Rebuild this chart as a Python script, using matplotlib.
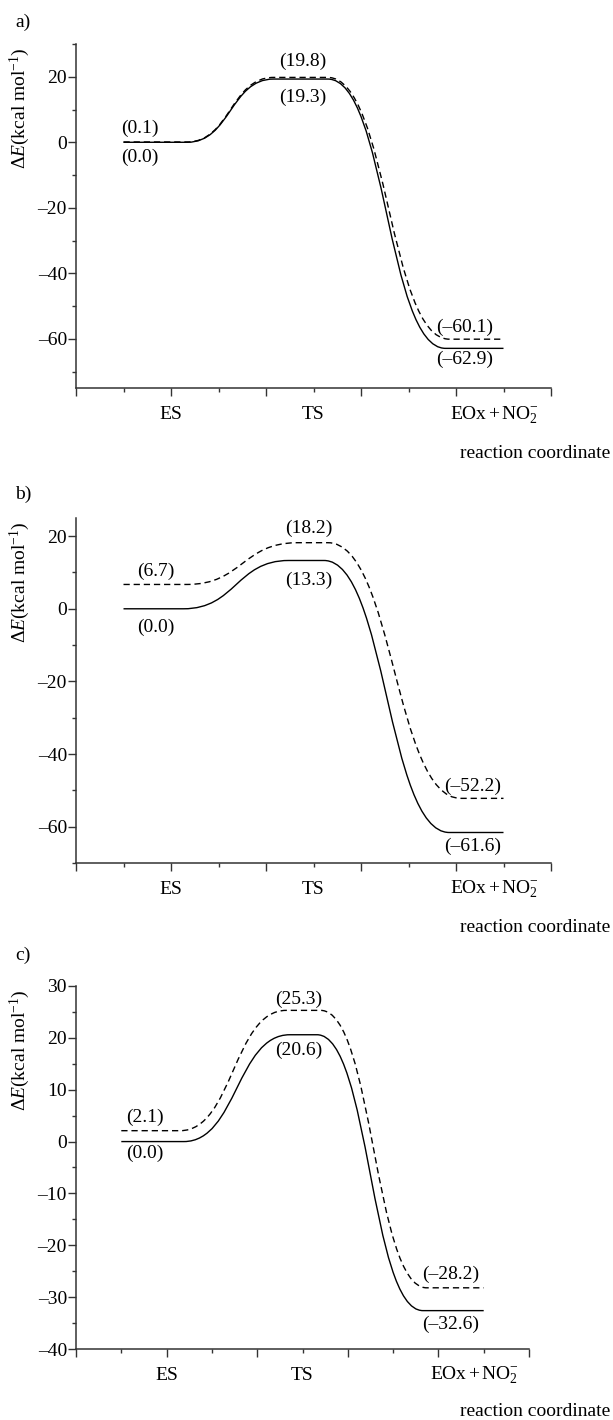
import matplotlib
matplotlib.use("Agg")
import matplotlib.pyplot as plt
from matplotlib.path import Path
from matplotlib.patches import PathPatch
from matplotlib.ticker import MultipleLocator, FuncFormatter
import matplotlib.transforms as mtransforms

plt.rcParams['font.family'] = ['Liberation Serif', 'DejaVu Serif']
plt.rcParams['mathtext.fontset'] = 'custom'
plt.rcParams['mathtext.rm'] = 'Liberation Serif'
plt.rcParams['mathtext.it'] = 'Liberation Serif:italic'
plt.rcParams['mathtext.bf'] = 'Liberation Serif:bold'
plt.rcParams['font.size'] = 14

# ---------------- data ----------------
categories = ['ES', 'TS', r'EOx$\,$+$\,$NO$_2^{-}$']
panel_names = ['a)', 'b)', 'c)']

a_solid = [0.0, 19.3, -62.9]
a_dashed = [0.1, 19.8, -60.1]
b_solid = [0.0, 13.3, -61.6]
b_dashed = [6.7, 18.2, -52.2]
c_solid = [0.0, 20.6, -32.6]
c_dashed = [2.1, 25.3, -28.2]

y_label = r'$\Delta E$(kcal mol$^{-1}$)'
x_label = 'reaction coordinate'

# ---------------- layout (pixels of 613x1420 figure) ----------------
W, H = 613, 1420
cat_x = [1.0, 2.5, 4.4]

panels = [
    dict(solid=a_solid, dashed=a_dashed, box=(76, 551, 44, 388), ylim=(-75, 30),
         major=20, minor=10,
         solid_plat=[(0.5, 1.17), (2.08, 2.65), (3.89, 4.5)],
         dashed_plat=[(0.5, 1.17), (2.08, 2.65), (3.93, 4.5)],
         lab_x=[0.67, 2.39, 4.09],
         dash_off=[14, 16, 12], solid_off=[-15, -18, -11],
         title_y=22, rc_base=70),
    dict(solid=b_solid, dashed=b_dashed, box=(76, 551, 518, 863), ylim=(-70, 25),
         major=20, minor=10,
         solid_plat=[(0.5, 1.13), (2.24, 2.61), (3.93, 4.5)],
         dashed_plat=[(0.5, 1.17), (2.33, 2.65), (4.05, 4.5)],
         lab_x=[0.84, 2.45, 4.18],
         dash_off=[13, 14, 12], solid_off=[-19, -20, -14],
         title_y=494, rc_base=69),
    dict(solid=c_solid, dashed=c_dashed, box=(76, 529, 986, 1349), ylim=(-40, 30),
         major=10, minor=5,
         solid_plat=[(0.5, 1.19), (2.36, 2.66), (3.83, 4.5)],
         dashed_plat=[(0.5, 1.15), (2.32, 2.70), (3.87, 4.5)],
         lab_x=[0.76, 2.46, 4.14],
         dash_off=[13, 11, 13], solid_off=[-12, -16, -14],
         title_y=955, rc_base=67),
]

fig = plt.figure(figsize=(W / 100, H / 100), dpi=100)
AX_COL = '#333333'


def profile_path(energies, plateaus, k=0.5):
    verts = []
    codes = []
    for i, (e, (xs, xe)) in enumerate(zip(energies, plateaus)):
        if i == 0:
            verts.append((xs, e)); codes.append(Path.MOVETO)
        else:
            pe = energies[i - 1]
            px = plateaus[i - 1][1]
            h = k * (xs - px)
            verts += [(px + h, pe), (xs - h, e), (xs, e)]
            codes += [Path.CURVE4] * 3
        verts.append((xe, e)); codes.append(Path.LINETO)
    return Path(verts, codes)


def fmt(v):
    return '(' + f'{v:.1f}'.replace('-', '\u2013') + ')'


tick_fmt = FuncFormatter(lambda v, pos: f'{v:.0f}'.replace('-', '\u2013'))

for name, p in zip(panel_names, panels):
    l, r, t, b = p['box']
    ax = fig.add_axes([l / W, 1 - b / H, (r - l) / W, (b - t) / H])
    ax.set_xlim(0, 5)
    ax.set_ylim(*p['ylim'])
    for s in ['top', 'right']:
        ax.spines[s].set_visible(False)
    for s in ['left', 'bottom']:
        ax.spines[s].set_color(AX_COL)
        ax.spines[s].set_linewidth(1.1)
    ax.xaxis.set_major_locator(MultipleLocator(1))
    ax.xaxis.set_minor_locator(MultipleLocator(0.5))
    ax.yaxis.set_major_locator(MultipleLocator(p['major']))
    ax.yaxis.set_minor_locator(MultipleLocator(p['minor']))
    ax.yaxis.set_major_formatter(tick_fmt)
    ax.tick_params(axis='both', which='major', length=5.5, width=1.0, color=AX_COL,
                   direction='out', labelsize=14, pad=1)
    ax.tick_params(axis='both', which='minor', length=3, width=1.0, color=AX_COL,
                   direction='out')
    ax.tick_params(axis='x', which='both', labelbottom=False)

    # curves
    ax.add_patch(PathPatch(profile_path(p['solid'], p['solid_plat']), fill=False,
                           edgecolor='black', lw=1.0, capstyle='butt'))
    ax.add_patch(PathPatch(profile_path(p['dashed'], p['dashed_plat']), fill=False,
                           edgecolor='black', lw=1.0, linestyle=(0, (4.5, 2.8))))

    # value labels
    for x, v, off in zip(p['lab_x'], p['dashed'], p['dash_off']):
        ax.annotate(fmt(v), xy=(x, v), xytext=(0, off), textcoords='offset pixels',
                    ha='center', va='center', fontsize=14)
    for x, v, off in zip(p['lab_x'], p['solid'], p['solid_off']):
        ax.annotate(fmt(v), xy=(x, v), xytext=(0, off), textcoords='offset pixels',
                    ha='center', va='center', fontsize=14)

    # category labels
    trans = mtransforms.blended_transform_factory(ax.transData, ax.transAxes)
    for x, c in zip(cat_x, categories):
        ax.annotate(c, xy=(x, 0), xycoords=trans, xytext=(0, -31),
                    textcoords='offset pixels', ha='center', va='baseline', fontsize=14)

    # axis titles
    fig.text(20 / W, 1 - (t + 3) / H, y_label, rotation=90, ha='center', va='top',
             fontsize=14)
    fig.text(610 / W, 1 - (b + p['rc_base']) / H, x_label, ha='right', va='baseline',
             fontsize=14)
    fig.text(15 / W, 1 - p['title_y'] / H, name, ha='left', va='center', fontsize=14)

fig.savefig('out.png', dpi=100)
